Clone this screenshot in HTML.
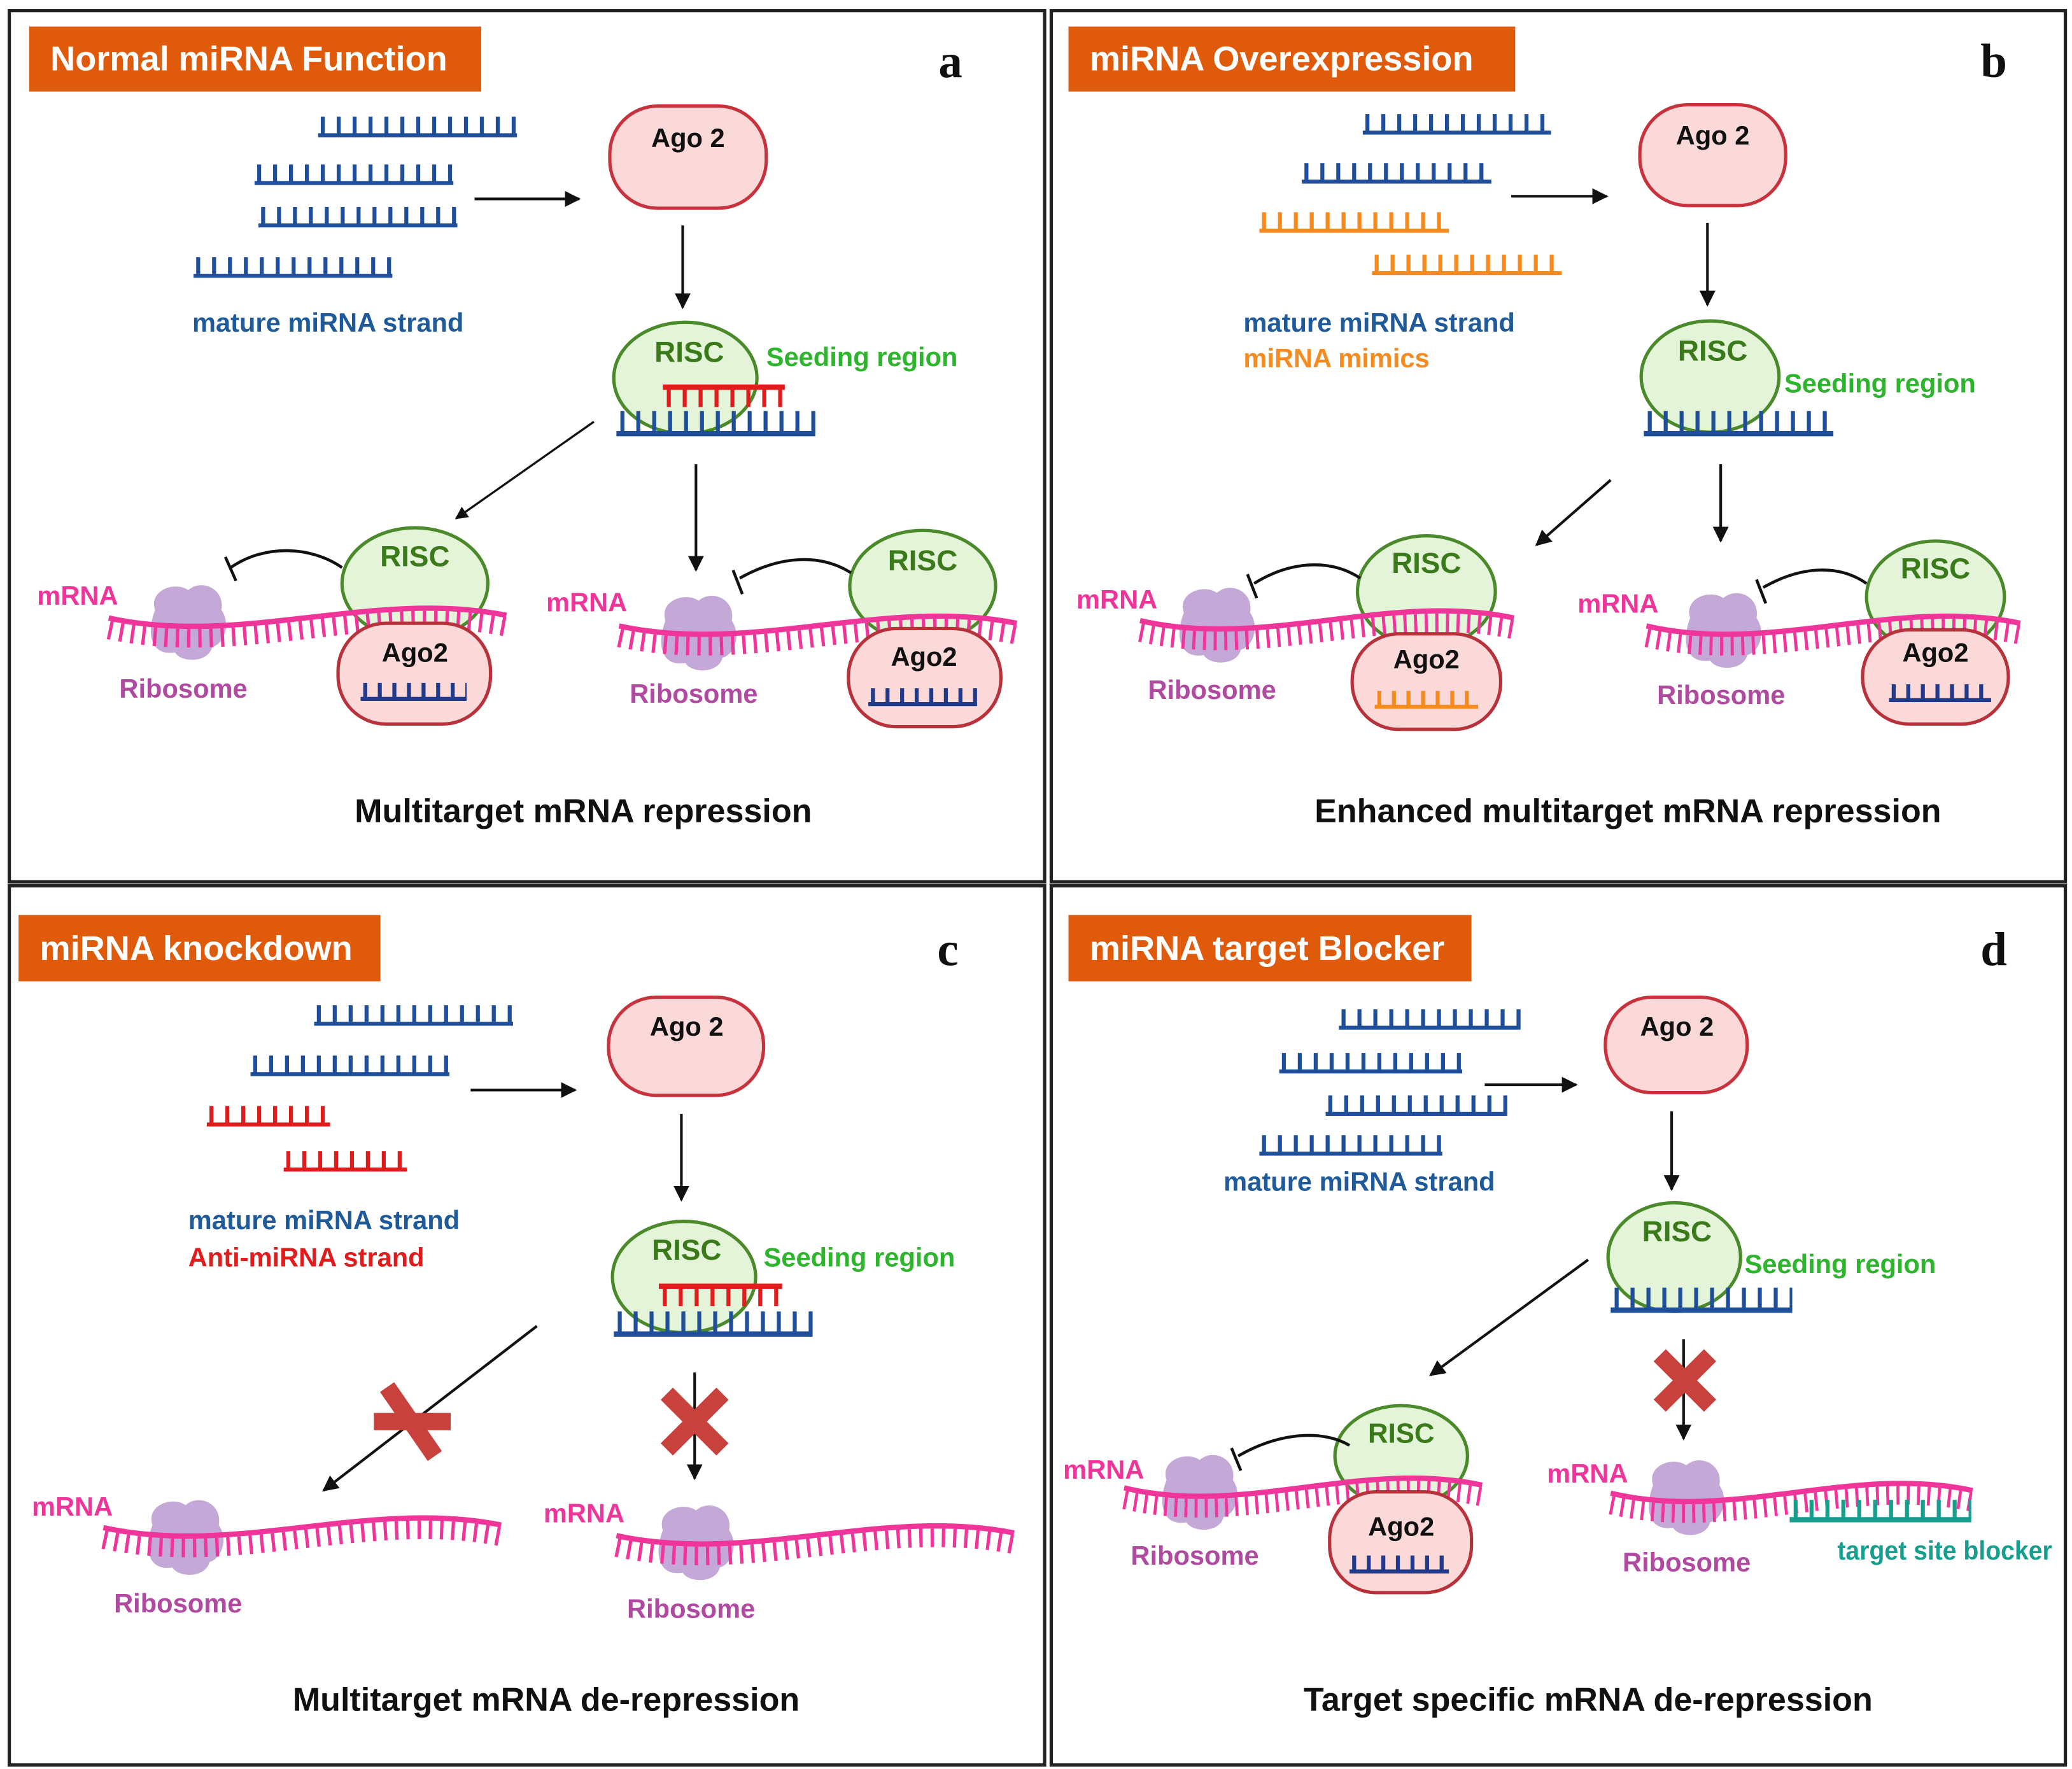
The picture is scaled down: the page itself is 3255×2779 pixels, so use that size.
<!DOCTYPE html>
<html><head><meta charset="utf-8"><style>
html,body{margin:0;padding:0;background:#fff}
svg{display:block}
text{font-family:"Liberation Sans",sans-serif;font-weight:bold}
</style></head><body>
<svg width="3255" height="2779" viewBox="0 0 1563 1334" preserveAspectRatio="none" xmlns="http://www.w3.org/2000/svg">
<defs>
<marker id="ah" viewBox="0 0 10 10" refX="9" refY="5" markerWidth="6" markerHeight="6" orient="auto"><path d="M0,0 L10,5 L0,10 z" fill="#111"/></marker>
<g id="mrna">
<path d="M0,0 C100,22 200,-22 300,-2" fill="none" stroke="#f0359a" stroke-width="14" stroke-dasharray="2.5 6" transform="translate(0,9)"/>
<path d="M0,0 C100,22 200,-22 300,-2" fill="none" stroke="#f0359a" stroke-width="4"/>
</g>
<g id="ribo">
<path d="M-25,-10 C-30,-25 -10,-32 0,-25 C10,-34 28,-26 25,-10 C32,0 28,15 18,18 C15,30 -5,30 -10,22 C-28,25 -32,8 -25,-10 z" fill="#c3a8d8"/>
</g>
</defs>

<rect x="7" y="8" width="781" height="657" fill="none" stroke="#222" stroke-width="2.5"/>
<rect x="793" y="8" width="765" height="657" fill="none" stroke="#222" stroke-width="2.5"/>
<rect x="7" y="668" width="781" height="663" fill="none" stroke="#222" stroke-width="2.5"/>
<rect x="793" y="668" width="765" height="663" fill="none" stroke="#222" stroke-width="2.5"/>

<!-- ===== Panel a ===== -->
<rect x="22" y="20" width="341" height="49" fill="#e05a0c"/>
<text x="38" y="53" font-size="26" fill="#fff">Normal miRNA Function</text>
<text x="708" y="58" font-size="36" style="font-family:'Liberation Serif',serif" fill="#111">a</text>
<g stroke="#1f4e9a">
<line x1="240" y1="102" x2="390" y2="102" stroke-width="3"/><line x1="242" y1="95" x2="390" y2="95" stroke-width="14" stroke-dasharray="3 9"/>
<line x1="192" y1="138" x2="342" y2="138" stroke-width="3"/><line x1="194" y1="131" x2="342" y2="131" stroke-width="14" stroke-dasharray="3 9"/>
<line x1="195" y1="170" x2="345" y2="170" stroke-width="3"/><line x1="197" y1="163" x2="345" y2="163" stroke-width="14" stroke-dasharray="3 9"/>
<line x1="146" y1="208" x2="296" y2="208" stroke-width="3"/><line x1="148" y1="201" x2="296" y2="201" stroke-width="14" stroke-dasharray="3 9"/>
</g>
<text x="145" y="250" font-size="20" fill="#1f5a9a">mature miRNA strand</text>
<line x1="358" y1="150" x2="437" y2="150" stroke="#111" stroke-width="2" marker-end="url(#ah)"/>
<rect x="460" y="80" width="118" height="77" rx="36" fill="#fbd9d9" stroke="#c8323c" stroke-width="2.5"/>
<text x="519" y="111" font-size="20" text-anchor="middle" fill="#111">Ago 2</text>
<line x1="515" y1="170" x2="515" y2="232" stroke="#111" stroke-width="2" marker-end="url(#ah)"/>
<ellipse cx="517" cy="285" rx="54" ry="42" fill="#e4f4d8" stroke="#4a8a2a" stroke-width="2.5"/>
<text x="520" y="273" font-size="22" text-anchor="middle" fill="#3a7a1a">RISC</text>
<text x="578" y="276" font-size="20" fill="#2db52d">Seeding region</text>
<g stroke="#e01c1c"><line x1="500" y1="292" x2="592" y2="292" stroke-width="4"/><line x1="503" y1="300" x2="592" y2="300" stroke-width="14" stroke-dasharray="3 9"/></g>
<g stroke="#1f4e9a"><line x1="465" y1="327" x2="615" y2="327" stroke-width="4"/><line x1="468" y1="318" x2="615" y2="318" stroke-width="16" stroke-dasharray="3 9"/></g>
<line x1="448" y1="318" x2="344" y2="391" stroke="#111" stroke-width="1.6" marker-end="url(#ah)"/>
<line x1="525" y1="350" x2="525" y2="430" stroke="#111" stroke-width="2" marker-end="url(#ah)"/>
<ellipse cx="313" cy="440" rx="55" ry="42" fill="#e4f4d8" stroke="#4a8a2a" stroke-width="2.5"/>
<text x="313" y="427" font-size="22" text-anchor="middle" fill="#3a7a1a">RISC</text>
<use href="#ribo" transform="translate(142,470)"/>
<use href="#mrna" transform="translate(82,466)"/>
<rect x="255" y="470" width="115" height="76" rx="36" fill="#fbd9d9" stroke="#b8323c" stroke-width="2.5"/>
<text x="313" y="499" font-size="20" text-anchor="middle" fill="#111">Ago2</text>
<g stroke="#1f3a8a"><line x1="272" y1="527" x2="352" y2="527" stroke-width="3"/><line x1="274" y1="521" x2="352" y2="521" stroke-width="12" stroke-dasharray="3 8"/></g>
<text x="28" y="456" font-size="20" fill="#f0359a">mRNA</text>
<text x="90" y="526" font-size="20" fill="#b04aa0">Ribosome</text>
<path d="M258,428 C235,412 200,410 174,428" fill="none" stroke="#111" stroke-width="2.2"/><line x1="170" y1="420" x2="178" y2="438" stroke="#111" stroke-width="2.2"/>
<ellipse cx="696" cy="442" rx="55" ry="42" fill="#e4f4d8" stroke="#4a8a2a" stroke-width="2.5"/>
<text x="696" y="430" font-size="22" text-anchor="middle" fill="#3a7a1a">RISC</text>
<use href="#ribo" transform="translate(527,478)"/>
<use href="#mrna" transform="translate(467,472)"/>
<rect x="640" y="474" width="115" height="74" rx="36" fill="#fbd9d9" stroke="#b8323c" stroke-width="2.5"/>
<text x="697" y="502" font-size="20" text-anchor="middle" fill="#111">Ago2</text>
<g stroke="#1f3a8a"><line x1="655" y1="531" x2="737" y2="531" stroke-width="3"/><line x1="657" y1="525" x2="737" y2="525" stroke-width="12" stroke-dasharray="3 8"/></g>
<text x="412" y="461" font-size="20" fill="#f0359a">mRNA</text>
<text x="475" y="530" font-size="20" fill="#b04aa0">Ribosome</text>
<path d="M642,432 C620,418 590,418 558,436" fill="none" stroke="#111" stroke-width="2.2"/><line x1="553" y1="430" x2="560" y2="448" stroke="#111" stroke-width="2.2"/>
<text x="440" y="620" font-size="25" text-anchor="middle" fill="#111">Multitarget mRNA repression</text>

<!-- ===== Panel b ===== -->
<rect x="806" y="20" width="337" height="49" fill="#e05a0c"/>
<text x="822" y="53" font-size="26" fill="#fff">miRNA Overexpression</text>
<text x="1494" y="58" font-size="36" style="font-family:'Liberation Serif',serif" fill="#111">b</text>
<g stroke="#1f4e9a">
<line x1="1028" y1="100" x2="1170" y2="100" stroke-width="3"/><line x1="1030" y1="93" x2="1170" y2="93" stroke-width="14" stroke-dasharray="3 9"/>
<line x1="982" y1="137" x2="1125" y2="137" stroke-width="3"/><line x1="984" y1="130" x2="1125" y2="130" stroke-width="14" stroke-dasharray="3 9"/>
</g>
<g stroke="#f58a1f">
<line x1="950" y1="174" x2="1093" y2="174" stroke-width="3"/><line x1="952" y1="167" x2="1093" y2="167" stroke-width="14" stroke-dasharray="3 9"/>
<line x1="1035" y1="206" x2="1178" y2="206" stroke-width="3"/><line x1="1037" y1="199" x2="1178" y2="199" stroke-width="14" stroke-dasharray="3 9"/>
</g>
<text x="938" y="250" font-size="20" fill="#1f5a9a">mature miRNA strand</text>
<text x="938" y="277" font-size="20" fill="#f58a1f">miRNA mimics</text>
<line x1="1140" y1="148" x2="1212" y2="148" stroke="#111" stroke-width="2" marker-end="url(#ah)"/>
<rect x="1237" y="79" width="110" height="76" rx="36" fill="#fbd9d9" stroke="#c8323c" stroke-width="2.5"/>
<text x="1292" y="109" font-size="20" text-anchor="middle" fill="#111">Ago 2</text>
<line x1="1288" y1="168" x2="1288" y2="230" stroke="#111" stroke-width="2" marker-end="url(#ah)"/>
<ellipse cx="1290" cy="284" rx="52" ry="42" fill="#e4f4d8" stroke="#4a8a2a" stroke-width="2.5"/>
<text x="1292" y="272" font-size="22" text-anchor="middle" fill="#3a7a1a">RISC</text>
<text x="1346" y="296" font-size="20" fill="#2db52d">Seeding region</text>
<g stroke="#1f4e9a"><line x1="1240" y1="327" x2="1383" y2="327" stroke-width="4"/><line x1="1243" y1="318" x2="1383" y2="318" stroke-width="16" stroke-dasharray="3 9"/></g>
<line x1="1215" y1="362" x2="1159" y2="411" stroke="#111" stroke-width="2" marker-end="url(#ah)"/>
<line x1="1298" y1="350" x2="1298" y2="408" stroke="#111" stroke-width="2" marker-end="url(#ah)"/>
<ellipse cx="1076" cy="446" rx="52" ry="42" fill="#e4f4d8" stroke="#4a8a2a" stroke-width="2.5"/>
<text x="1076" y="432" font-size="22" text-anchor="middle" fill="#3a7a1a">RISC</text>
<use href="#ribo" transform="translate(918,472)"/>
<use href="#mrna" transform="translate(860,468) scale(0.94,1)"/>
<rect x="1020" y="478" width="112" height="72" rx="35" fill="#fbd9d9" stroke="#b8323c" stroke-width="2.5"/>
<text x="1076" y="504" font-size="20" text-anchor="middle" fill="#111">Ago2</text>
<g stroke="#f58a1f"><line x1="1037" y1="533" x2="1115" y2="533" stroke-width="3"/><line x1="1039" y1="527" x2="1115" y2="527" stroke-width="12" stroke-dasharray="3 8"/></g>
<text x="812" y="459" font-size="20" fill="#f0359a">mRNA</text>
<text x="866" y="527" font-size="20" fill="#b04aa0">Ribosome</text>
<path d="M1026,436 C1005,422 975,422 946,440" fill="none" stroke="#111" stroke-width="2.2"/><line x1="941" y1="433" x2="948" y2="451" stroke="#111" stroke-width="2.2"/>
<ellipse cx="1460" cy="450" rx="52" ry="42" fill="#e4f4d8" stroke="#4a8a2a" stroke-width="2.5"/>
<text x="1460" y="436" font-size="22" text-anchor="middle" fill="#3a7a1a">RISC</text>
<use href="#ribo" transform="translate(1300,476)"/>
<use href="#mrna" transform="translate(1242,472) scale(0.94,1)"/>
<rect x="1405" y="475" width="110" height="71" rx="35" fill="#fbd9d9" stroke="#b8323c" stroke-width="2.5"/>
<text x="1460" y="499" font-size="20" text-anchor="middle" fill="#111">Ago2</text>
<g stroke="#1f3a8a"><line x1="1425" y1="528" x2="1502" y2="528" stroke-width="3"/><line x1="1427" y1="522" x2="1502" y2="522" stroke-width="12" stroke-dasharray="3 8"/></g>
<text x="1190" y="462" font-size="20" fill="#f0359a">mRNA</text>
<text x="1250" y="531" font-size="20" fill="#b04aa0">Ribosome</text>
<path d="M1408,440 C1388,426 1360,426 1330,443" fill="none" stroke="#111" stroke-width="2.2"/><line x1="1325" y1="437" x2="1332" y2="455" stroke="#111" stroke-width="2.2"/>
<text x="1228" y="620" font-size="25" text-anchor="middle" fill="#111">Enhanced multitarget mRNA repression</text>

<!-- ===== Panel c ===== -->
<rect x="14" y="690" width="273" height="50" fill="#e05a0c"/>
<text x="30" y="724" font-size="26" fill="#fff">miRNA knockdown</text>
<text x="707" y="728" font-size="36" style="font-family:'Liberation Serif',serif" fill="#111">c</text>
<g stroke="#1f4e9a">
<line x1="237" y1="772" x2="387" y2="772" stroke-width="3"/><line x1="239" y1="765" x2="387" y2="765" stroke-width="14" stroke-dasharray="3 9"/>
<line x1="189" y1="810" x2="339" y2="810" stroke-width="3"/><line x1="191" y1="803" x2="339" y2="803" stroke-width="14" stroke-dasharray="3 9"/>
</g>
<g stroke="#e01c1c">
<line x1="156" y1="848" x2="249" y2="848" stroke-width="3"/><line x1="158" y1="841" x2="249" y2="841" stroke-width="14" stroke-dasharray="3 9"/>
<line x1="214" y1="882" x2="307" y2="882" stroke-width="3"/><line x1="216" y1="875" x2="307" y2="875" stroke-width="14" stroke-dasharray="3 9"/>
</g>
<text x="142" y="927" font-size="20" fill="#1f5a9a">mature miRNA strand</text>
<text x="142" y="955" font-size="20" fill="#e01c1c">Anti-miRNA strand</text>
<line x1="355" y1="822" x2="434" y2="822" stroke="#111" stroke-width="2" marker-end="url(#ah)"/>
<rect x="459" y="752" width="117" height="74" rx="36" fill="#fbd9d9" stroke="#c8323c" stroke-width="2.5"/>
<text x="518" y="781" font-size="20" text-anchor="middle" fill="#111">Ago 2</text>
<line x1="514" y1="840" x2="514" y2="905" stroke="#111" stroke-width="2" marker-end="url(#ah)"/>
<ellipse cx="516" cy="963" rx="54" ry="42" fill="#e4f4d8" stroke="#4a8a2a" stroke-width="2.5"/>
<text x="518" y="950" font-size="22" text-anchor="middle" fill="#3a7a1a">RISC</text>
<text x="576" y="955" font-size="20" fill="#2db52d">Seeding region</text>
<g stroke="#e01c1c"><line x1="497" y1="970" x2="590" y2="970" stroke-width="4"/><line x1="500" y1="978" x2="590" y2="978" stroke-width="14" stroke-dasharray="3 9"/></g>
<g stroke="#1f4e9a"><line x1="463" y1="1006" x2="613" y2="1006" stroke-width="4"/><line x1="466" y1="997" x2="613" y2="997" stroke-width="16" stroke-dasharray="3 9"/></g>
<line x1="405" y1="1000" x2="244" y2="1124" stroke="#111" stroke-width="2" marker-end="url(#ah)"/>
<line x1="524" y1="1035" x2="524" y2="1115" stroke="#111" stroke-width="2" marker-end="url(#ah)"/>
<g stroke="#c8413d" stroke-width="13"><line x1="292" y1="1046" x2="328" y2="1098"/><line x1="282" y1="1072" x2="340" y2="1072"/></g>
<g stroke="#c8413d" stroke-width="13"><line x1="503" y1="1051" x2="545" y2="1093"/><line x1="545" y1="1051" x2="503" y2="1093"/></g>
<use href="#ribo" transform="translate(140,1160)"/>
<use href="#mrna" transform="translate(78,1152)"/>
<use href="#ribo" transform="translate(525,1164)"/>
<use href="#mrna" transform="translate(465,1158)"/>
<text x="24" y="1143" font-size="20" fill="#f0359a">mRNA</text>
<text x="86" y="1216" font-size="20" fill="#b04aa0">Ribosome</text>
<text x="410" y="1148" font-size="20" fill="#f0359a">mRNA</text>
<text x="473" y="1220" font-size="20" fill="#b04aa0">Ribosome</text>
<text x="412" y="1290" font-size="25" text-anchor="middle" fill="#111">Multitarget mRNA de-repression</text>

<!-- ===== Panel d ===== -->
<rect x="806" y="690" width="304" height="50" fill="#e05a0c"/>
<text x="822" y="724" font-size="26" fill="#fff">miRNA target Blocker</text>
<text x="1494" y="728" font-size="36" style="font-family:'Liberation Serif',serif" fill="#111">d</text>
<g stroke="#1f4e9a">
<line x1="1010" y1="775" x2="1147" y2="775" stroke-width="3"/><line x1="1012" y1="768" x2="1147" y2="768" stroke-width="14" stroke-dasharray="3 9"/>
<line x1="965" y1="808" x2="1103" y2="808" stroke-width="3"/><line x1="967" y1="801" x2="1103" y2="801" stroke-width="14" stroke-dasharray="3 9"/>
<line x1="1000" y1="840" x2="1137" y2="840" stroke-width="3"/><line x1="1002" y1="833" x2="1137" y2="833" stroke-width="14" stroke-dasharray="3 9"/>
<line x1="950" y1="870" x2="1088" y2="870" stroke-width="3"/><line x1="952" y1="863" x2="1088" y2="863" stroke-width="14" stroke-dasharray="3 9"/>
</g>
<text x="923" y="898" font-size="20" fill="#1f5a9a">mature miRNA strand</text>
<line x1="1120" y1="818" x2="1189" y2="818" stroke="#111" stroke-width="2" marker-end="url(#ah)"/>
<rect x="1211" y="752" width="107" height="72" rx="35" fill="#fbd9d9" stroke="#c8323c" stroke-width="2.5"/>
<text x="1265" y="781" font-size="20" text-anchor="middle" fill="#111">Ago 2</text>
<line x1="1261" y1="838" x2="1261" y2="897" stroke="#111" stroke-width="2" marker-end="url(#ah)"/>
<ellipse cx="1263" cy="948" rx="50" ry="41" fill="#e4f4d8" stroke="#4a8a2a" stroke-width="2.5"/>
<text x="1265" y="936" font-size="22" text-anchor="middle" fill="#3a7a1a">RISC</text>
<text x="1316" y="960" font-size="20" fill="#2db52d">Seeding region</text>
<g stroke="#1f4e9a"><line x1="1215" y1="988" x2="1352" y2="988" stroke-width="4"/><line x1="1218" y1="979" x2="1352" y2="979" stroke-width="16" stroke-dasharray="3 9"/></g>
<line x1="1198" y1="950" x2="1079" y2="1037" stroke="#111" stroke-width="2" marker-end="url(#ah)"/>
<line x1="1270" y1="1010" x2="1270" y2="1085" stroke="#111" stroke-width="2" marker-end="url(#ah)"/>
<g stroke="#c8413d" stroke-width="13"><line x1="1252" y1="1022" x2="1290" y2="1060"/><line x1="1290" y1="1022" x2="1252" y2="1060"/></g>
<ellipse cx="1057" cy="1098" rx="50" ry="38" fill="#e4f4d8" stroke="#4a8a2a" stroke-width="2.5"/>
<text x="1057" y="1088" font-size="21" text-anchor="middle" fill="#3a7a1a">RISC</text>
<use href="#ribo" transform="translate(905,1126)"/>
<use href="#mrna" transform="translate(848,1122) scale(0.9,1)"/>
<rect x="1003" y="1125" width="107" height="76" rx="35" fill="#fbd9d9" stroke="#b8323c" stroke-width="2.5"/>
<text x="1057" y="1158" font-size="20" text-anchor="middle" fill="#111">Ago2</text>
<g stroke="#1f3a8a"><line x1="1018" y1="1185" x2="1093" y2="1185" stroke-width="3"/><line x1="1020" y1="1179" x2="1093" y2="1179" stroke-width="12" stroke-dasharray="3 8"/></g>
<text x="802" y="1115" font-size="20" fill="#f0359a">mRNA</text>
<text x="853" y="1180" font-size="20" fill="#b04aa0">Ribosome</text>
<path d="M1018,1090 C998,1078 965,1080 934,1098" fill="none" stroke="#111" stroke-width="2.2"/><line x1="929" y1="1092" x2="936" y2="1109" stroke="#111" stroke-width="2.2"/>
<use href="#ribo" transform="translate(1272,1130)"/>
<use href="#mrna" transform="translate(1215,1126) scale(0.91,1)"/>
<g stroke="#169e8e"><line x1="1350" y1="1146" x2="1487" y2="1146" stroke-width="4"/><line x1="1353" y1="1138" x2="1487" y2="1138" stroke-width="14" stroke-dasharray="3 9"/></g>
<text x="1167" y="1118" font-size="20" fill="#f0359a">mRNA</text>
<text x="1224" y="1185" font-size="20" fill="#b04aa0">Ribosome</text>
<text x="1386" y="1176" font-size="20" fill="#169e8e" textLength="162" lengthAdjust="spacingAndGlyphs">target site blocker</text>
<text x="1198" y="1290" font-size="25" text-anchor="middle" fill="#111">Target specific mRNA de-repression</text>
</svg>
</body></html>
